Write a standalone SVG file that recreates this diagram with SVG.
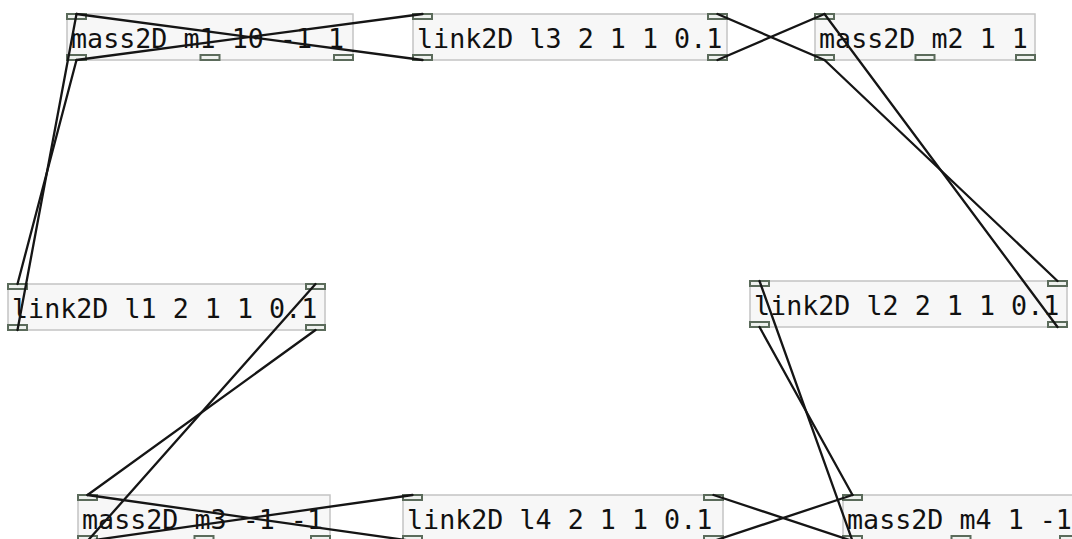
<svg xmlns="http://www.w3.org/2000/svg" width="1072" height="539" viewBox="0 0 1072 539">
  <style>
    .box { fill: #f7f7f7; stroke: #c4c4c4; stroke-width: 1.5; }
    .io { fill: #eef1ee; stroke: #5b6b5b; stroke-width: 2; }
    .label { font-family: "DejaVu Sans Mono", "Liberation Mono", monospace; font-size: 26.7px; fill: #111; }
    .cord { stroke: #151515; stroke-width: 2.3; fill: none; stroke-linecap: round; }
  </style>

  <!-- object boxes -->
  <g id="m1">
    <rect class="box" x="67" y="14" width="286" height="46"/>
    <rect class="io" x="67" y="14" width="19" height="5"/>
    <rect class="io" x="67" y="55" width="19" height="5"/>
    <rect class="io" x="200.5" y="55" width="19" height="5"/>
    <rect class="io" x="334" y="55" width="19" height="5"/>
    <text class="label" x="71" y="48">mass2D m1 10 -1 1</text>
  </g>
  <g id="l3">
    <rect class="box" x="413" y="14" width="314" height="46"/>
    <rect class="io" x="413" y="14" width="19" height="5"/>
    <rect class="io" x="708" y="14" width="19" height="5"/>
    <rect class="io" x="413" y="55" width="19" height="5"/>
    <rect class="io" x="708" y="55" width="19" height="5"/>
    <text class="label" x="417" y="48">link2D l3 2 1 1 0.1</text>
  </g>
  <g id="m2">
    <rect class="box" x="815" y="14" width="220" height="46"/>
    <rect class="io" x="815" y="14" width="19" height="5"/>
    <rect class="io" x="815" y="55" width="19" height="5"/>
    <rect class="io" x="915.5" y="55" width="19" height="5"/>
    <rect class="io" x="1016" y="55" width="19" height="5"/>
    <text class="label" x="819" y="48">mass2D m2 1 1</text>
  </g>
  <g id="l1">
    <rect class="box" x="8" y="284" width="317" height="46"/>
    <rect class="io" x="8" y="284" width="19" height="5"/>
    <rect class="io" x="306" y="284" width="19" height="5"/>
    <rect class="io" x="8" y="325" width="19" height="5"/>
    <rect class="io" x="306" y="325" width="19" height="5"/>
    <text class="label" x="12" y="318">link2D l1 2 1 1 0.1</text>
  </g>
  <g id="l2">
    <rect class="box" x="750" y="281" width="317" height="46"/>
    <rect class="io" x="750" y="281" width="19" height="5"/>
    <rect class="io" x="1048" y="281" width="19" height="5"/>
    <rect class="io" x="750" y="322" width="19" height="5"/>
    <rect class="io" x="1048" y="322" width="19" height="5"/>
    <text class="label" x="754" y="315">link2D l2 2 1 1 0.1</text>
  </g>
  <g id="m3">
    <rect class="box" x="78" y="495" width="252" height="46"/>
    <rect class="io" x="78" y="495" width="19" height="5"/>
    <rect class="io" x="78" y="536" width="19" height="5"/>
    <rect class="io" x="194.5" y="536" width="19" height="5"/>
    <rect class="io" x="311" y="536" width="19" height="5"/>
    <text class="label" x="82" y="529">mass2D m3 -1 -1</text>
  </g>
  <g id="l4">
    <rect class="box" x="403" y="495" width="320" height="46"/>
    <rect class="io" x="403" y="495" width="19" height="5"/>
    <rect class="io" x="704" y="495" width="19" height="5"/>
    <rect class="io" x="403" y="536" width="19" height="5"/>
    <rect class="io" x="704" y="536" width="19" height="5"/>
    <text class="label" x="407" y="529">link2D l4 2 1 1 0.1</text>
  </g>
  <g id="m4">
    <rect class="box" x="843" y="495" width="236" height="46"/>
    <rect class="io" x="843" y="495" width="19" height="5"/>
    <rect class="io" x="843" y="536" width="19" height="5"/>
    <rect class="io" x="951.5" y="536" width="19" height="5"/>
    <rect class="io" x="1060" y="536" width="19" height="5"/>
    <text class="label" x="847" y="529">mass2D m4 1 -1</text>
  </g>

  <!-- patch cords: outlet (bottom edge) to inlet (top edge) -->
  <g id="connectors">
    <line class="cord" x1="76.5" y1="60" x2="422.5" y2="14"/>
    <line class="cord" x1="422.5" y1="60" x2="76.5" y2="14"/>
    <line class="cord" x1="824.5" y1="60" x2="717.5" y2="14"/>
    <line class="cord" x1="717.5" y1="60" x2="824.5" y2="14"/>
    <line class="cord" x1="76.5" y1="60" x2="17.5" y2="284"/>
    <line class="cord" x1="17.5" y1="330" x2="76.5" y2="14"/>
    <line class="cord" x1="824.5" y1="60" x2="1057.5" y2="281"/>
    <line class="cord" x1="1057.5" y1="327" x2="824.5" y2="14"/>
    <line class="cord" x1="87.5" y1="541" x2="315.5" y2="284"/>
    <line class="cord" x1="315.5" y1="330" x2="87.5" y2="495"/>
    <line class="cord" x1="852.5" y1="541" x2="759.5" y2="281"/>
    <line class="cord" x1="759.5" y1="327" x2="852.5" y2="495"/>
    <line class="cord" x1="87.5" y1="541" x2="412.5" y2="495"/>
    <line class="cord" x1="412.5" y1="541" x2="87.5" y2="495"/>
    <line class="cord" x1="852.5" y1="541" x2="713.5" y2="495"/>
    <line class="cord" x1="713.5" y1="541" x2="852.5" y2="495"/>
  </g>
</svg>
